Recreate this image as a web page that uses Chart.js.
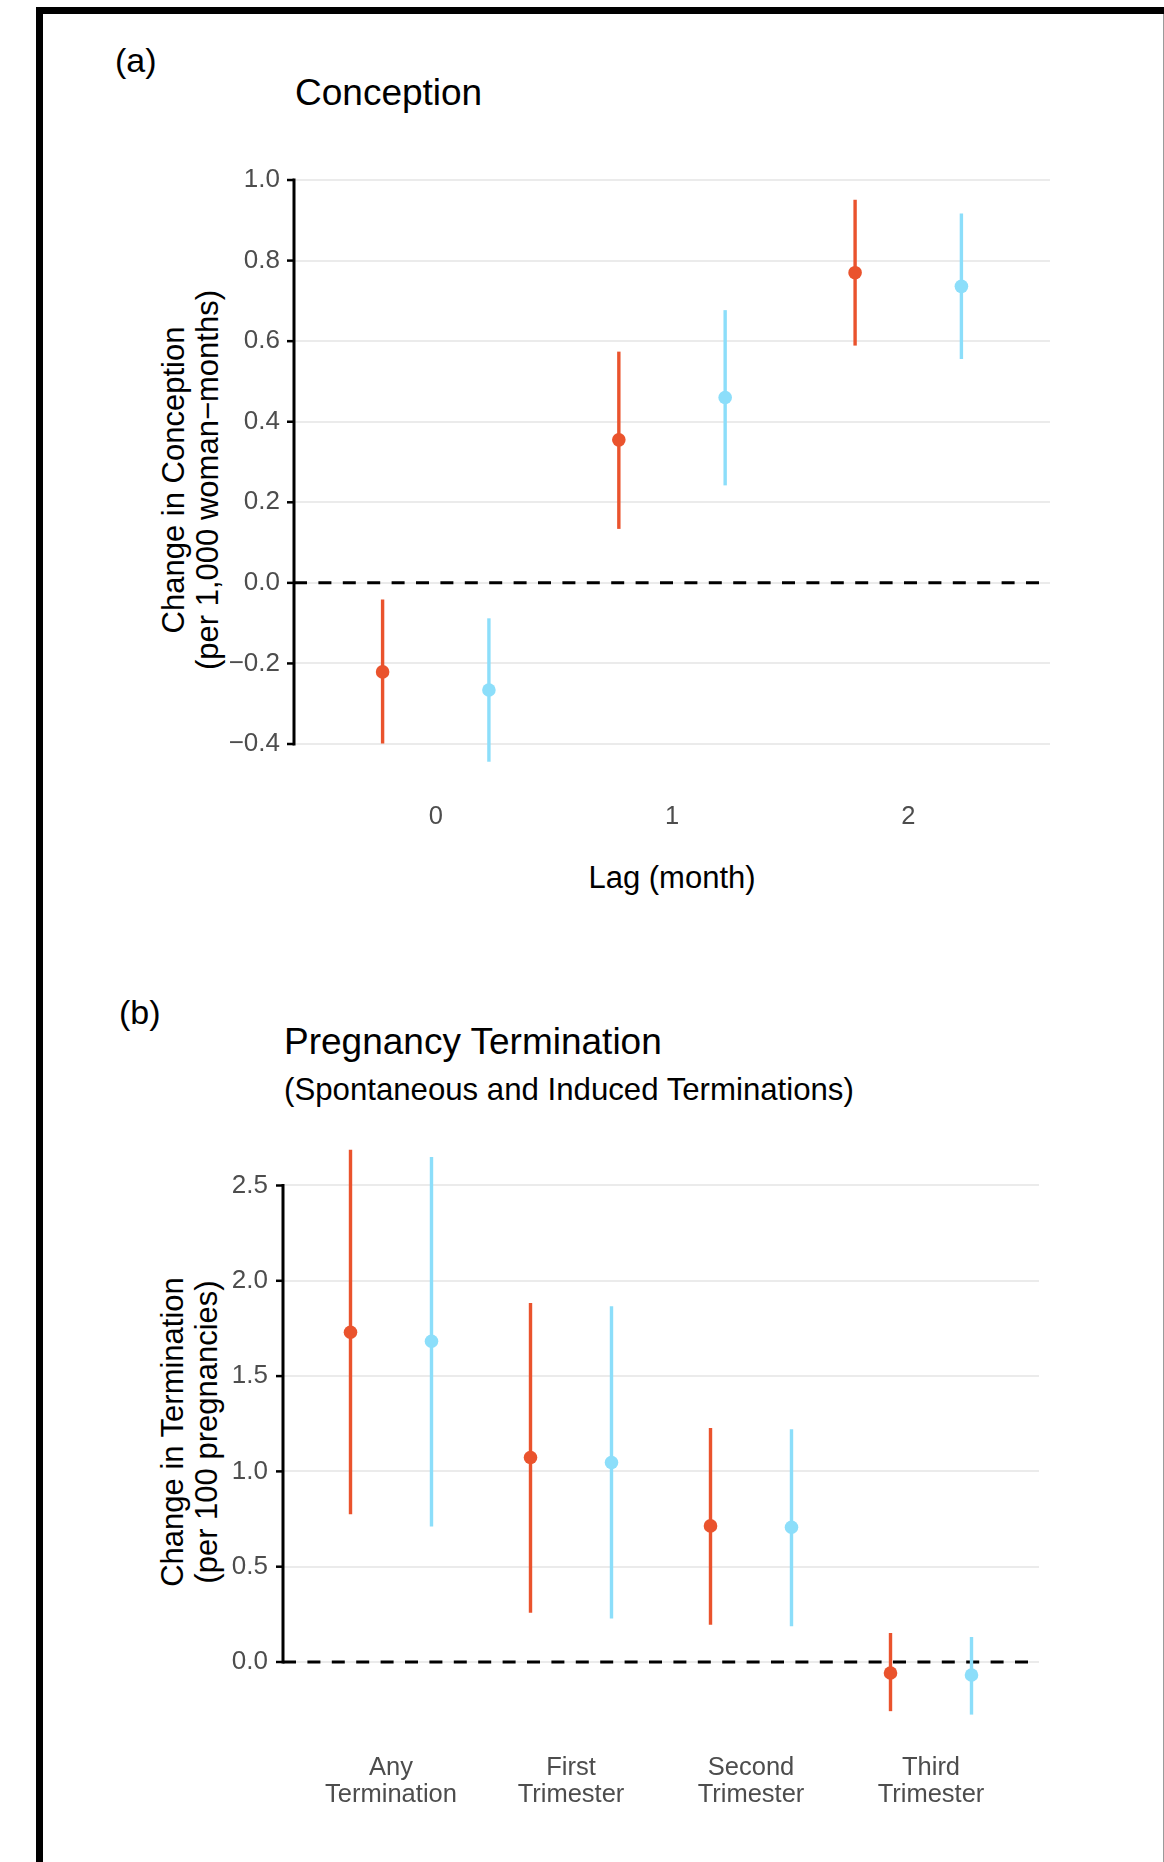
<!DOCTYPE html>
<html>
<head>
<meta charset="utf-8">
<script src="https://cdn.jsdelivr.net/npm/chart.js@4.4.1/dist/chart.umd.min.js"></script>
<style>
html,body{margin:0;padding:0;background:#fff;}
body{width:1164px;height:1862px;position:relative;overflow:hidden;font-family:"Liberation Sans",Arial,Helvetica,sans-serif;}
.frame{position:absolute;left:36px;top:7px;width:1300px;height:1900px;border-left:7px solid #000;border-top:7px solid #000;box-sizing:border-box;}
.edge{position:absolute;left:1163px;top:14px;width:1px;height:1848px;background:#9a9a9a;}
.t{position:absolute;white-space:nowrap;color:#000;line-height:1;}
.ytitle{position:absolute;width:600px;text-align:center;font-size:31px;color:#000;transform:rotate(-90deg);transform-origin:50% 50%;white-space:nowrap;}
canvas{position:absolute;left:0;}
</style>
</head>
<body>
<div class="frame"></div>
<div class="edge"></div>

<div class="t" style="left:115px;top:43px;font-size:34px;">(a)</div>
<div class="t" style="left:295px;top:74px;font-size:37px;">Conception</div>
<div class="ytitle" style="left:-109px;top:446px;line-height:34px;">Change in Conception<br>(per 1,000 woman−months)</div>
<div class="t" style="left:672px;top:862px;font-size:31px;transform:translateX(-50%);">Lag (month)</div>

<div class="t" style="left:119px;top:995px;font-size:34px;">(b)</div>
<div class="t" style="left:284px;top:1023px;font-size:37px;">Pregnancy Termination</div>
<div class="t" style="left:284px;top:1074px;font-size:31.2px;">(Spontaneous and Induced Terminations)</div>
<div class="ytitle" style="left:-110px;top:1398px;line-height:34px;">Change in Termination<br>(per 100 pregnancies)</div>

<canvas id="chartA" width="1164" height="860" style="top:0px;"></canvas>
<canvas id="chartB" width="1164" height="962" style="top:900px;"></canvas>

<script>
// ---------- Data: panel (a) Conception ----------
const lagCats = [0, 1, 2];
const lagLabels = ['0', '1', '2'];
const conceptionRedEst  = [-0.221, 0.355, 0.770];
const conceptionRedLo   = [-0.399, 0.134, 0.589];
const conceptionRedHi   = [-0.041, 0.574, 0.951];
const conceptionBlueEst = [-0.266, 0.460, 0.736];
const conceptionBlueLo  = [-0.444, 0.242, 0.556];
const conceptionBlueHi  = [-0.088, 0.677, 0.917];
const conceptionYTicks  = [-0.4, -0.2, 0.0, 0.2, 0.4, 0.6, 0.8, 1.0];
const conceptionYLabels = ['−0.4', '−0.2', '0.0', '0.2', '0.4', '0.6', '0.8', '1.0'];

// ---------- Data: panel (b) Pregnancy termination ----------
const termCats = [1, 2, 3, 4];
const termLabels = [['Any', 'Termination'], ['First', 'Trimester'], ['Second', 'Trimester'], ['Third', 'Trimester']];
const termRedEst  = [1.730, 1.073, 0.714, -0.058];
const termRedLo   = [0.775, 0.258, 0.195, -0.258];
const termRedHi   = [2.688, 1.883, 1.228, 0.152];
const termBlueEst = [1.683, 1.047, 0.707, -0.068];
const termBlueLo  = [0.711, 0.228, 0.188, -0.276];
const termBlueHi  = [2.650, 1.866, 1.221, 0.131];
const termYTicks  = [0.0, 0.5, 1.0, 1.5, 2.0, 2.5];
const termYLabels = ['0.0', '0.5', '1.0', '1.5', '2.0', '2.5'];

// ---------- Styles ----------
const RED = '#EA532D';
const BLUE = '#8CDEFA';
const DODGE = 0.225;
const TICK_COLOR = '#4D4D4D';
const GRID_COLOR = '#EBEBEB';

Chart.defaults.font.family = "'Liberation Sans', Arial, Helvetica, sans-serif";

const decor = {
  id: 'decor',
  beforeDatasetsDraw(chart) {
    const {ctx, chartArea} = chart;
    const ys = chart.scales.y;
    const vals = ys.ticks.map(t => t.value);
    const yTop = ys.getPixelForValue(Math.max(...vals));
    const yBot = ys.getPixelForValue(Math.min(...vals));
    const x0 = chartArea.left;
    ctx.save();
    ctx.strokeStyle = '#000';
    const yz = ys.getPixelForValue(0);
    ctx.lineWidth = 3;
    ctx.setLineDash([13, 11.4]);
    ctx.beginPath();
    ctx.moveTo(x0, yz);
    ctx.lineTo(chartArea.right, yz);
    ctx.stroke();
    ctx.setLineDash([]);
    ctx.lineWidth = 3;
    ctx.beginPath();
    ctx.moveTo(x0, yTop - 1.5);
    ctx.lineTo(x0, yBot + 1.5);
    ctx.stroke();
    ctx.lineWidth = 2.5;
    vals.forEach(v => {
      const p = ys.getPixelForValue(v);
      ctx.beginPath();
      ctx.moveTo(x0 - 7, p);
      ctx.lineTo(x0, p);
      ctx.stroke();
    });
    ctx.restore();
  }
};

function errorBars(cats, lo, hi, offset, color) {
  return {
    type: 'bar',
    data: cats.map((c, i) => ({x: c + offset, y: [lo[i], hi[i]]})),
    backgroundColor: color,
    borderWidth: 0,
    grouped: false,
    maxBarThickness: 3.4,
    order: 2
  };
}
function points(cats, est, offset, color) {
  return {
    type: 'scatter',
    data: cats.map((c, i) => ({x: c + offset, y: est[i]})),
    backgroundColor: color,
    borderColor: color,
    borderWidth: 0,
    pointRadius: 6.8,
    pointHoverRadius: 6.8,
    order: 1
  };
}

function makeChart(id, cfg) {
  return new Chart(document.getElementById(id), {
    type: 'scatter',
    data: {
      datasets: [
        errorBars(cfg.cats, cfg.redLo, cfg.redHi, -DODGE, RED),
        errorBars(cfg.cats, cfg.blueLo, cfg.blueHi, DODGE, BLUE),
        points(cfg.cats, cfg.redEst, -DODGE, RED),
        points(cfg.cats, cfg.blueEst, DODGE, BLUE)
      ]
    },
    options: {
      responsive: false,
      animation: false,
      events: [],
      layout: {padding: cfg.padding},
      plugins: {legend: {display: false}, tooltip: {enabled: false}, title: {display: false}},
      scales: {
        x: {
          type: 'linear',
          offset: false,
          min: cfg.xMin, max: cfg.xMax,
          afterBuildTicks: s => { s.ticks = cfg.cats.map(v => ({value: v})); },
          afterFit: s => { s.height = cfg.xHeight; },
          grid: {display: false, drawTicks: false, offset: false},
          border: {display: false},
          ticks: {
            autoSkip: false, maxRotation: 0, minRotation: 0,
            padding: cfg.xPad,
            color: TICK_COLOR,
            font: {size: 25.5, lineHeight: cfg.xLineHeight},
            callback: (v, i) => cfg.xLabels[i]
          }
        },
        y: {
          type: 'linear',
          offset: false,
          min: cfg.yMin, max: cfg.yMax,
          afterBuildTicks: s => { s.ticks = cfg.yTicks.map(v => ({value: v})); },
          afterFit: s => { s.width = cfg.yWidth; },
          grid: {color: GRID_COLOR, lineWidth: 2, drawTicks: false},
          border: {display: false},
          ticks: {
            padding: cfg.yPad,
            color: TICK_COLOR,
            font: {size: 26},
            callback: (v, i) => cfg.yLabels[i]
          }
        }
      }
    },
    plugins: [decor]
  });
}

makeChart('chartA', {
  cats: lagCats, xLabels: lagLabels,
  redEst: conceptionRedEst, redLo: conceptionRedLo, redHi: conceptionRedHi,
  blueEst: conceptionBlueEst, blueLo: conceptionBlueLo, blueHi: conceptionBlueHi,
  yTicks: conceptionYTicks, yLabels: conceptionYLabels,
  xMin: -0.6, xMax: 2.6, yMin: -0.539, yMax: 1.0497,
  padding: {top: 160, right: 114, bottom: 0, left: 0},
  yWidth: 294, xHeight: 60, xPad: 2, yPad: 14, xLineHeight: 1.2
});

makeChart('chartB', {
  cats: termCats, xLabels: termLabels,
  redEst: termRedEst, redLo: termRedLo, redHi: termRedHi,
  blueEst: termBlueEst, blueLo: termBlueLo, blueHi: termBlueHi,
  yTicks: termYTicks, yLabels: termYLabels,
  xMin: 0.4, xMax: 4.6, yMin: -0.3568, yMax: 2.8961,
  padding: {top: 210, right: 125, bottom: 0, left: 0},
  yWidth: 283, xHeight: 132, xPad: 24, yPad: 15, xLineHeight: 1.06
});
</script>
</body>
</html>
